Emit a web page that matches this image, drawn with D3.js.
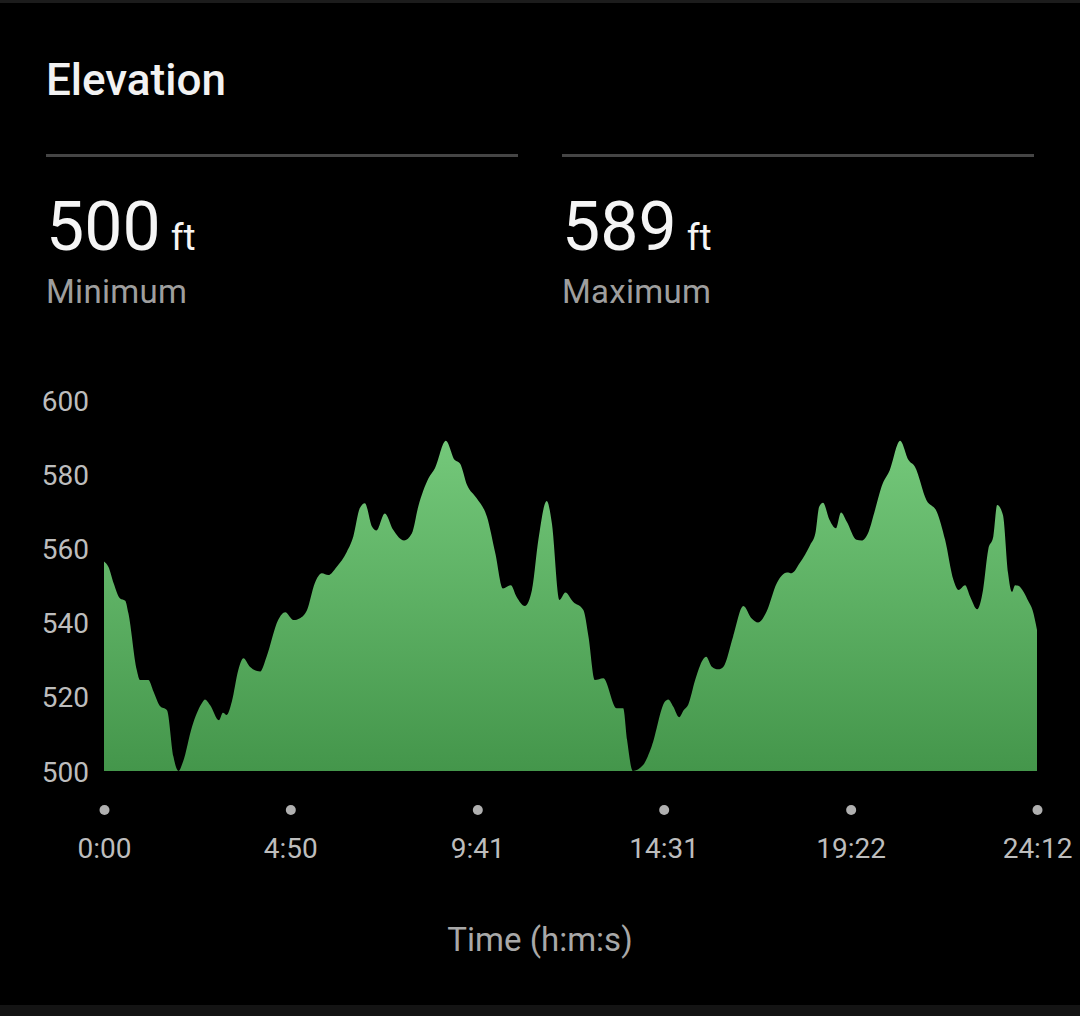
<!DOCTYPE html>
<html>
<head>
<meta charset="utf-8">
<script src="https://cdn.jsdelivr.net/npm/d3@7"></script>
<style>
  html, body { margin: 0; padding: 0; background: #000; }
  svg { display: block; font-family: Roboto, "Noto Sans", sans-serif; }
</style>
</head>
<body>
<svg id="chart"></svg>
<script>
// elevation samples (seconds, feet)
let timeSec = [0, 7, 15, 25, 33, 38, 51, 56, 69, 77, 87, 98, 108, 116, 123, 137, 152, 157, 165, 179,
  185, 191, 199, 209, 217, 227, 243, 253, 271, 282, 295, 305, 316, 328, 339, 349, 362, 378, 388, 398,
  406, 417, 424, 437, 450, 467, 479, 489, 505, 515, 532, 546, 554, 565, 580, 596, 609, 621, 633, 642,
  655, 666, 676, 689, 697, 709, 718, 730, 746, 754, 764, 777, 798, 808, 814, 823, 839, 852, 873, 878,
  886, 895, 902, 909, 920, 928, 937, 946, 956, 964, 979, 995, 1008, 1018, 1031, 1047, 1063, 1070, 1083, 1099,
  1107, 1113, 1119, 1129, 1139, 1147, 1156, 1171, 1179, 1190, 1200, 1210, 1223, 1239, 1252, 1262, 1280, 1296, 1309, 1322,
  1330, 1340, 1348, 1359, 1368, 1376, 1384, 1390, 1399, 1407, 1413, 1418, 1423, 1439, 1445, 1452];
let elevFt = [556.5, 555, 550.6, 546.5, 545.9, 542.5, 527.2, 524.5, 524.5, 521.4, 517.5, 516.4, 503.9, 500, 502.5, 511.9, 518.2, 519.3, 517.8, 513.7,
  515.7, 515.1, 518.7, 527.2, 530.4, 528.1, 526.8, 530.8, 540.7, 542.8, 540.7, 541.2, 543.4, 550.6, 553.3, 552.8, 555, 559.1, 563.2, 570.8,
  572.2, 565.9, 564.8, 569.4, 565, 562.1, 564, 571.2, 578.9, 581.6, 589, 583.8, 582.9, 577.1, 573.5, 568.5, 558.7, 549.2, 550.1, 547,
  544.5, 548.8, 562.3, 572.8, 566.8, 546.1, 548.1, 545.6, 543.4, 536.2, 524.5, 525, 516.9, 516.9, 508.4, 500, 501.6, 506.5, 518.7, 519.3,
  517.3, 514.5, 516.4, 517.8, 524.5, 528.6, 530.8, 528.1, 527.4, 528.1, 536.2, 544.5, 541.1, 540, 542.9, 550.6, 553.5, 553.3, 556.1, 560.9,
  564, 571.2, 572.3, 567.7, 565.4, 569.7, 567.2, 562.3, 562.1, 564.5, 570.4, 576.6, 581.1, 589, 583.8, 582, 573, 569.9, 562.3, 551.5,
  548.8, 550.1, 547, 543.6, 548.8, 559.6, 563.2, 571.7, 569, 553.3, 548.3, 550.1, 549.9, 545.6, 543.4, 538];

let yTicks = [500, 520, 540, 560, 580, 600];
let xTicks = [0, 290, 581, 871, 1162, 1452];
let xTickLabels = ['0:00', '4:50', '9:41', '14:31', '19:22', '24:12'];

let statValues = ['500', '589'];
let statLabels = ['Minimum', 'Maximum'];

let data = timeSec.map((t, i) => ({ t: t, v: elevFt[i] }));

let W = 1080, H = 1016;
let plot = { left: 104, right: 1037, top: 400, bottom: 771 };

let svg = d3.select('#chart').attr('width', W).attr('height', H);

// background + top / bottom bars
svg.append('rect').attr('width', W).attr('height', H).attr('fill', '#000');
svg.append('rect').attr('width', W).attr('height', 3).attr('fill', '#1c1c1c');
svg.append('rect').attr('y', 1005).attr('width', W).attr('height', 11).attr('fill', '#141414');

// header
svg.append('text')
   .attr('x', 46).attr('y', 95)
   .attr('fill', '#f2f2f2')
   .style('font-size', '44px')
   .style('font-weight', 500)
   .text('Elevation');

let statX = [46, 562];
statX.forEach((x, i) => {
    svg.append('line')
       .attr('x1', x).attr('x2', x + 472)
       .attr('y1', 155.5).attr('y2', 155.5)
       .attr('stroke', '#454545').attr('stroke-width', 3);

    let num = svg.append('text')
       .attr('x', x).attr('y', 250)
       .attr('fill', '#f5f5f5');
    num.append('tspan').style('font-size', '68px').text(statValues[i]);
    num.append('tspan').attr('dx', 10).style('font-size', '37px').text('ft');

    svg.append('text')
       .attr('x', x).attr('y', 303)
       .attr('fill', '#9e9e9e')
       .style('font-size', '33px')
       .style('letter-spacing', '0.3px')
       .text(statLabels[i]);
});

// scales
let xScale = d3.scaleLinear().domain([0, 1452]).range([plot.left, plot.right]);
let yScale = d3.scaleLinear().domain([500, 600]).range([plot.bottom, plot.top]);

// gradient fill
let grad = svg.append('defs').append('linearGradient')
   .attr('id', 'elevFill')
   .attr('gradientUnits', 'userSpaceOnUse')
   .attr('x1', 0).attr('x2', 0)
   .attr('y1', yScale(589)).attr('y2', yScale(500));
grad.append('stop').attr('offset', '0%').attr('stop-color', '#74c87a');
grad.append('stop').attr('offset', '100%').attr('stop-color', '#44964b');

let area = d3.area()
   .x(d => xScale(d.t))
   .y0(yScale(500))
   .y1(d => yScale(d.v))
   .curve(d3.curveMonotoneX);

svg.append('path')
   .datum(data)
   .attr('d', area)
   .attr('fill', 'url(#elevFill)');

// y axis
let yAxis = d3.axisLeft(yScale).tickValues(yTicks).tickSize(0).tickPadding(0);
let gy = svg.append('g')
   .attr('transform', 'translate(89, 0)')
   .call(yAxis);
gy.select('.domain').remove();
gy.selectAll('text')
   .attr('fill', '#bdbdbd')
   .attr('dy', '0.36em')
   .style('font-size', '28px')
   .style('font-family', 'Roboto, sans-serif');

// x axis: dots + labels
let xAxis = d3.axisBottom(xScale)
   .tickValues(xTicks)
   .tickFormat((d, i) => xTickLabels[i])
   .tickSize(0).tickPadding(0);
let gx = svg.append('g')
   .attr('transform', 'translate(0, 810)')
   .call(xAxis);
gx.select('.domain').remove();
gx.selectAll('.tick').append('circle')
   .attr('r', 5).attr('fill', '#b0b0b0');
gx.selectAll('text')
   .attr('y', 48).attr('dy', 0)
   .attr('fill', '#bdbdbd')
   .style('font-size', '28px')
   .style('font-family', 'Roboto, sans-serif');

svg.append('text')
   .attr('x', 540).attr('y', 951)
   .attr('text-anchor', 'middle')
   .attr('fill', '#a8a8a8')
   .style('font-size', '33px')
   .text('Time (h:m:s)');
</script>
</body>
</html>
